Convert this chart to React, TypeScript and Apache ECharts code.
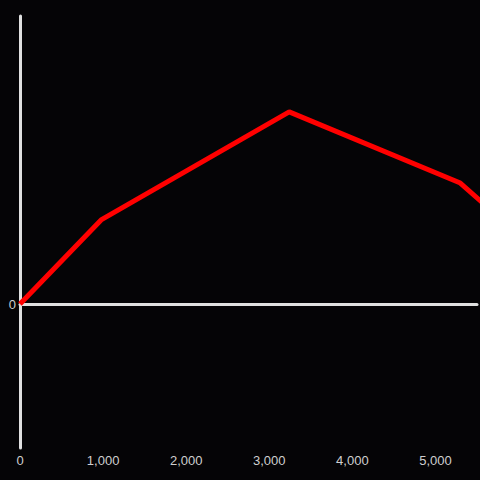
import React, { useEffect, useRef } from "react";
import * as echarts from "echarts";

const xValues = [0, 976, 3240, 5299, 5600];
const yValues = [0, 29.2, 66.7, 42, 34.3];
const xTicks = [0, 1000, 2000, 3000, 4000, 5000];

export default function App() {
  const ref = useRef<HTMLDivElement>(null);
  useEffect(() => {
    if (!ref.current) return;
    const chart = echarts.init(ref.current, null, { renderer: "svg" });
    const axisColor = "#e0e0e0";
    const labelColor = "#cfcfcf";
    const fontFamily = "'Liberation Sans', Arial, sans-serif";
    chart.setOption({
      animation: false,
      backgroundColor: "#050406",
      grid: { left: 20, right: 0, top: 16, bottom: 32, containLabel: false },
      xAxis: [
        {
          type: "value",
          min: 0,
          max: 5500,
          interval: 1000,
          axisLine: { show: true, onZero: true, lineStyle: { color: axisColor, width: 3 } },
          axisTick: { show: false },
          axisLabel: { show: false },
          splitLine: { show: false },
        },
        {
          type: "value",
          position: "bottom",
          min: 0,
          max: 5500,
          interval: 1000,
          axisLine: { show: false, onZero: false },
          axisTick: { show: false },
          splitLine: { show: false },
          axisLabel: {
            show: true,
            color: labelColor,
            fontSize: 13,
            fontFamily,
            margin: 6,
            formatter: (v: number) => (xTicks.includes(v) ? v.toLocaleString("en-US") : ""),
          },
        },
      ],
      yAxis: {
        type: "value",
        min: -50,
        max: 100,
        interval: 50,
        axisLine: { show: true, onZero: false, lineStyle: { color: axisColor, width: 3 } },
        axisTick: { show: false },
        splitLine: { show: false },
        axisLabel: {
          color: labelColor,
          fontSize: 13,
          fontFamily,
          margin: 4,
          formatter: (v: number) => (v === 0 ? "0" : ""),
        },
      },
      series: [
        {
          type: "line",
          xAxisIndex: 0,
          data: xValues.map((x, i) => [x, yValues[i]]),
          symbol: "none",
          clip: true,
          lineStyle: { color: "#ff0000", width: 5 },
          z: 5,
        },
      ],
    });
    return () => chart.dispose();
  }, []);
  return <div ref={ref} style={{ width: 480, height: 480, position: "absolute", left: 0, top: 0 }} />;
}
